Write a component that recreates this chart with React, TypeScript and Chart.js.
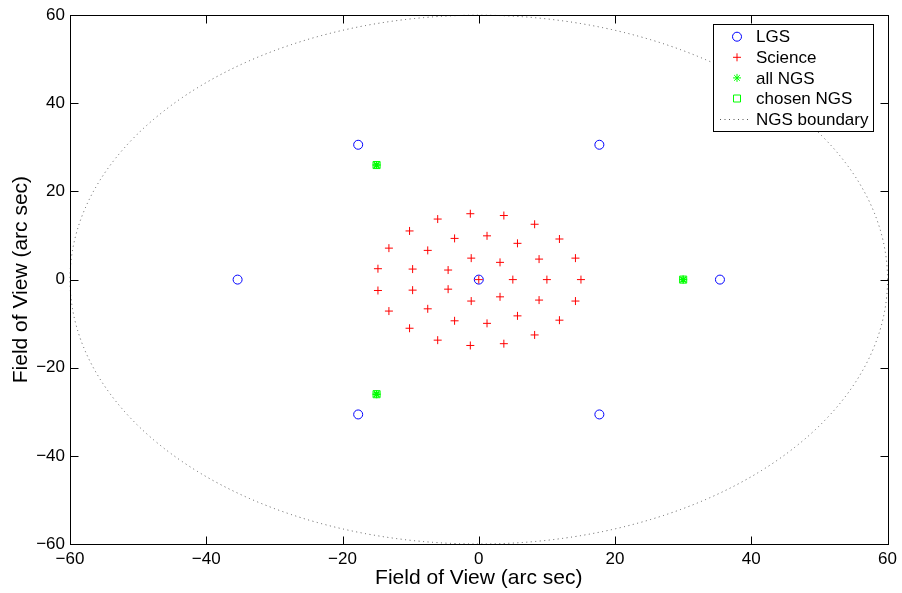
import React, { useEffect, useRef } from 'react';
import { Chart, registerables } from 'chart.js';

Chart.register(...registerables);

const FONT = "'Liberation Sans', Arial, Helvetica, sans-serif";

const AXIS_MIN = -60;
const AXIS_MAX = 60;
const AXIS_STEP = 20;
const NGS_RADIUS = 60;
const AXIS_TITLE = 'Field of View (arc sec)';

const LGS_X = [0, 35.4, 17.7, -17.7, -35.4, -17.7, 17.7];
const LGS_Y = [0, 0, 30.6, 30.6, 0, -30.6, -30.6];

const SCIENCE_X = [
  0,
  5, 3.12, -1.11, -4.5, -4.5, -1.11, 3.12,
  10, 8.85, 5.68, 1.21, -3.55, -7.49, -9.71, -9.71, -7.49, -3.55, 1.21, 5.68, 8.85,
  15, 14.19, 11.84, 8.2, 3.68, -1.24, -6.03, -10.16, -13.19, -14.8,
  -14.8, -13.19, -10.16, -6.03, -1.24, 3.68, 8.2, 11.84, 14.19,
];
const SCIENCE_Y = [
  0,
  0, 3.91, 4.87, 2.17, -2.17, -4.87, -3.91,
  0, 4.65, 8.23, 9.93, 9.35, 6.63, 2.39, -2.39, -6.63, -9.35, -9.93, -8.23, -4.65,
  0, 4.87, 9.21, 12.56, 14.54, 14.95, 13.74, 11.04, 7.14, 2.47,
  -2.47, -7.14, -11.04, -13.74, -14.95, -14.54, -12.56, -9.21, -4.87,
];

const ALL_NGS_X = [30, -15, -15];
const ALL_NGS_Y = [0, 26, -26];
const CHOSEN_NGS_X = [30, -15, -15];
const CHOSEN_NGS_Y = [0, 26, -26];

const LEGEND_LABELS = ['LGS', 'Science', 'all NGS', 'chosen NGS', 'NGS boundary'];

const BLUE = '#0000ff';
const RED = '#ff0000';
const GREEN = '#00ff00';

const toPts = (xs: number[], ys: number[]) => xs.map((x, i) => ({ x, y: ys[i] }));
const fmt = (v: any) => (Number(v) < 0 ? '\u2212' + Math.abs(Number(v)) : String(v));

function drawMarker(ctx: CanvasRenderingContext2D, kind: string, x: number, y: number) {
  ctx.save();
  ctx.lineWidth = 1;
  ctx.setLineDash([]);
  ctx.beginPath();
  if (kind === 'circle') {
    ctx.strokeStyle = BLUE;
    ctx.arc(x, y, 4.5, 0, Math.PI * 2);
  } else if (kind === 'cross') {
    ctx.strokeStyle = RED;
    ctx.moveTo(x - 4, y); ctx.lineTo(x + 4, y);
    ctx.moveTo(x, y - 4); ctx.lineTo(x, y + 4);
  } else if (kind === 'star') {
    ctx.strokeStyle = GREEN;
    const r = 4;
    for (let k = 0; k < 4; k++) {
      const a = (k * Math.PI) / 4;
      ctx.moveTo(x - r * Math.cos(a), y - r * Math.sin(a));
      ctx.lineTo(x + r * Math.cos(a), y + r * Math.sin(a));
    }
  } else if (kind === 'rect') {
    ctx.strokeStyle = GREEN;
    ctx.rect(x - 3.5, y - 3.5, 7, 7);
  }
  ctx.stroke();
  ctx.restore();
}

export default function App() {
  const ref = useRef<HTMLCanvasElement>(null);

  useEffect(() => {
    document.body.style.margin = '0';
    const canvas = ref.current!;

    const boundary = {
      id: 'ngsBoundary',
      beforeDatasetsDraw(chart: any) {
        const { ctx, scales } = chart;
        const cx = scales.x.getPixelForValue(0);
        const cy = scales.y.getPixelForValue(0);
        const rx = scales.x.getPixelForValue(NGS_RADIUS) - cx;
        const ry = cy - scales.y.getPixelForValue(NGS_RADIUS);
        ctx.save();
        ctx.strokeStyle = '#555555';
        ctx.lineWidth = 1;
        ctx.setLineDash([1, 3.5]);
        ctx.beginPath();
        ctx.ellipse(cx, cy, rx, ry, 0, 0, Math.PI * 2);
        ctx.stroke();
        ctx.restore();
      },
    };

    const frame = {
      id: 'frame',
      afterDatasetsDraw(chart: any) {
        const { ctx, chartArea, scales } = chart;
        const L = Math.round(chartArea.left) + 0.5;
        const R = Math.round(chartArea.right) + 0.5;
        const T = Math.round(chartArea.top) + 0.5;
        const B = Math.round(chartArea.bottom) + 0.5;
        ctx.save();
        ctx.strokeStyle = '#000';
        ctx.lineWidth = 1;
        ctx.setLineDash([]);
        ctx.strokeRect(L, T, R - L, B - T);
        ctx.beginPath();
        const tl = 8;
        scales.x.ticks.forEach((t: any) => {
          const px = Math.round(scales.x.getPixelForValue(t.value)) + 0.5;
          ctx.moveTo(px, B); ctx.lineTo(px, B - tl);
          ctx.moveTo(px, T); ctx.lineTo(px, T + tl);
        });
        scales.y.ticks.forEach((t: any) => {
          const py = Math.round(scales.y.getPixelForValue(t.value)) + 0.5;
          ctx.moveTo(L, py); ctx.lineTo(L + tl, py);
          ctx.moveTo(R, py); ctx.lineTo(R - tl, py);
        });
        ctx.stroke();
        ctx.restore();
      },
    };

    const legendBox = {
      id: 'legendBox',
      afterDraw(chart: any) {
        const { ctx } = chart;
        const bx = 713, by = 24, bw = 160, bh = 107;
        ctx.save();
        ctx.fillStyle = '#fff';
        ctx.fillRect(bx, by, bw, bh);
        ctx.strokeStyle = '#000';
        ctx.lineWidth = 1;
        ctx.strokeRect(bx + 0.5, by + 0.5, bw, bh);
        const kinds = ['circle', 'cross', 'star', 'rect', 'line'];
        ctx.font = `17px ${FONT}`;
        ctx.textBaseline = 'middle';
        ctx.textAlign = 'left';
        LEGEND_LABELS.forEach((label, i) => {
          const y = 36.7 + i * 20.6;
          const k = kinds[i];
          if (k === 'line') {
            ctx.save();
            ctx.strokeStyle = '#555555';
            ctx.setLineDash([1, 3.5]);
            ctx.beginPath();
            ctx.moveTo(720, Math.round(y) + 0.5);
            ctx.lineTo(751, Math.round(y) + 0.5);
            ctx.stroke();
            ctx.restore();
          } else {
            drawMarker(ctx, k, 737, y);
          }
          ctx.fillStyle = '#000';
          ctx.fillText(label, 756, y + 1);
        });
        ctx.restore();
      },
    };

    const tickFont = { family: FONT, size: 17 };
    const titleFont = { family: FONT, size: 21 };

    const chart = new Chart(canvas, {
      type: 'scatter',
      data: {
        datasets: [
          {
            label: 'LGS',
            data: toPts(LGS_X, LGS_Y),
            pointStyle: 'circle',
            radius: 4.5,
            borderColor: BLUE,
            backgroundColor: 'rgba(0,0,0,0)',
            borderWidth: 1,
            order: 4,
          },
          {
            label: 'Science',
            data: toPts(SCIENCE_X, SCIENCE_Y),
            pointStyle: 'cross',
            radius: 4,
            borderColor: RED,
            backgroundColor: RED,
            borderWidth: 1,
            order: 3,
          },
          {
            label: 'all NGS',
            data: toPts(ALL_NGS_X, ALL_NGS_Y),
            pointStyle: 'star',
            radius: 4,
            borderColor: GREEN,
            backgroundColor: GREEN,
            borderWidth: 1.5,
            order: 2,
          },
          {
            label: 'chosen NGS',
            data: toPts(CHOSEN_NGS_X, CHOSEN_NGS_Y),
            pointStyle: 'rect',
            radius: 5,
            borderColor: GREEN,
            backgroundColor: 'rgba(0,0,0,0)',
            borderWidth: 1,
            order: 1,
          },
        ],
      },
      options: {
        responsive: false,
        animation: false,
        devicePixelRatio: 1,
        layout: { padding: { top: 13, right: 11, left: 0, bottom: 0 } },
        plugins: { legend: { display: false }, tooltip: { enabled: false } },
        scales: {
          x: {
            type: 'linear',
            min: AXIS_MIN,
            max: AXIS_MAX,
            ticks: { stepSize: AXIS_STEP, font: tickFont, color: '#000', padding: 5, callback: fmt, maxRotation: 0, autoSkip: false },
            grid: { display: false, drawTicks: false },
            border: { display: false },
            title: { display: true, text: AXIS_TITLE, font: titleFont, color: '#000', padding: { top: 0, bottom: 2 } },
            afterFit: (s: any) => { s.height = 49; },
          },
          y: {
            type: 'linear',
            min: AXIS_MIN,
            max: AXIS_MAX,
            ticks: { stepSize: AXIS_STEP, font: tickFont, color: '#000', padding: 5, callback: fmt, autoSkip: false },
            grid: { display: false, drawTicks: false },
            border: { display: false },
            title: { display: true, text: AXIS_TITLE, font: titleFont, color: '#000', padding: { top: 9, bottom: 0 } },
            afterFit: (s: any) => { s.width = 70; },
          },
        },
      } as any,
      plugins: [boundary, frame, legendBox],
    });

    return () => chart.destroy();
  }, []);

  return <canvas ref={ref} width={902} height={593} style={{ display: 'block' }} />;
}
